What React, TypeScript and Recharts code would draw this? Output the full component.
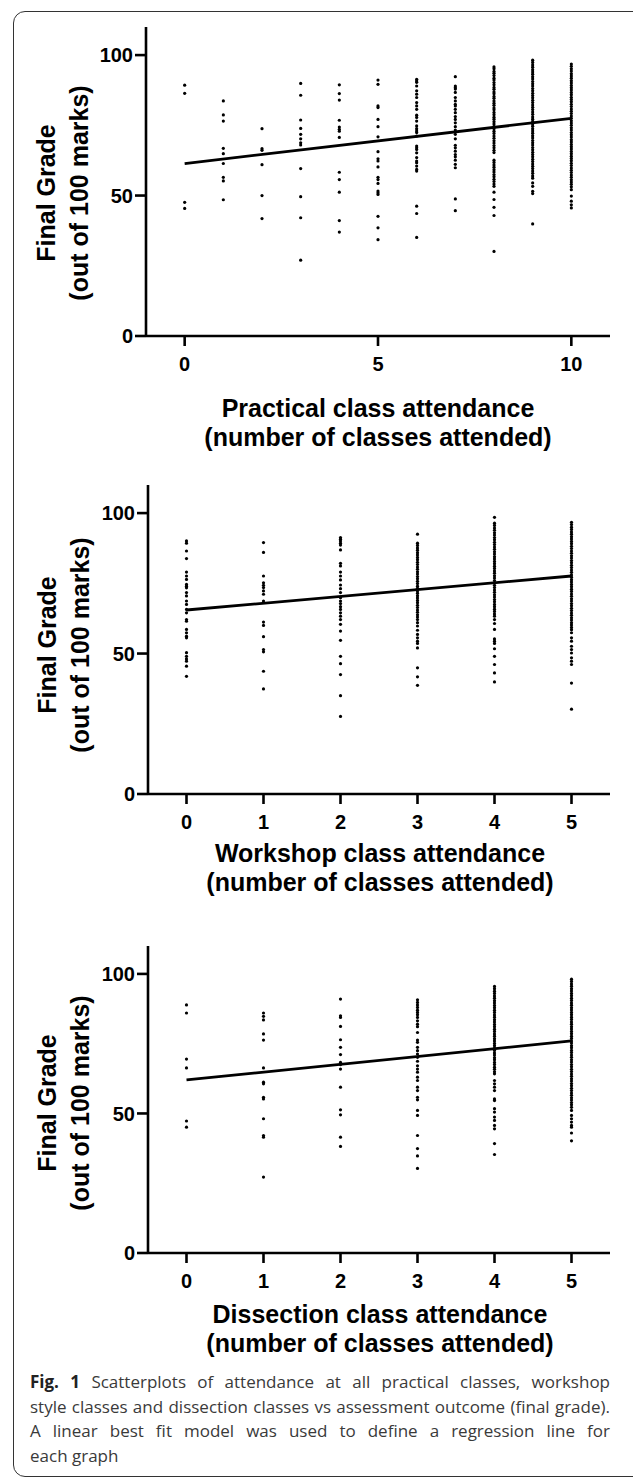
import React from 'react';
import { ScatterChart, Scatter, XAxis, YAxis, Label } from 'recharts';

// ---------- DATA ----------
const practicalX = [0, 1, 2, 3, 4, 5, 6, 7, 8, 9, 10];
const practicalTicks = [0, 5, 10];
const p0 = [89.3, 86.4, 47.6, 45.4];
const p1 = [83.7, 78.7, 76.5, 66.8, 64.9, 61.4, 56.5, 55.2, 48.5];
const p2 = [73.8, 66.7, 66.1, 61.0, 50.0, 41.8];
const p3 = [89.9, 85.7, 76.9, 73.9, 71.8, 70.2, 68.8, 68.0, 59.6, 49.6, 42.1, 27.0];
const p4 = [89.4, 86.3, 84.0, 76.8, 74.4, 73.6, 72.9, 70.7, 58.3, 55.7, 51.2, 41.1, 37.0];
const p5 = [91.1, 89.6, 81.9, 81.3, 77.1, 74.5, 70.9, 65.6, 63.1, 62.3, 60.2, 56.5, 55.7, 54.3, 51.6, 51.0, 50.4, 42.6, 38.5, 34.3];
const p6 = [91.4, 90.8, 90.3, 89.0, 87.3, 86.1, 84.9, 83.1, 81.9, 80.7, 78.6, 77.8, 76.5, 74.8, 73.8, 73.0, 72.4, 71.2, 67.6, 67.0, 66.4, 65.2, 63.5, 62.3, 61.7, 60.5, 59.3, 58.7, 46.2, 43.6, 35.1];
const p7 = [92.3, 89.0, 88.4, 87.9, 86.7, 84.9, 83.7, 82.5, 81.9, 80.7, 79.5, 78.1, 77.1, 75.9, 74.5, 73.3, 71.8, 70.2, 67.9, 67.0, 65.8, 64.6, 63.8, 62.6, 61.1, 59.9, 48.8, 44.6];
const p8 = [95.8, 95.1, 94.2, 93.5, 92.7, 91.8, 91.1, 90.2, 89.4, 88.5, 87.8, 86.9, 86.2, 85.3, 84.6, 83.7, 82.9, 82.1, 81.2, 80.5, 79.6, 78.8, 77.9, 77.2, 76.3, 75.5, 74.6, 73.8, 72.9, 72.1, 71.2, 70.4, 69.5, 68.7, 67.8, 67.0, 66.1, 65.3, 62.6, 61.8, 60.9, 60.1, 59.2, 58.4, 57.5, 56.7, 55.8, 55.0, 54.1, 53.3, 51.2, 48.6, 45.8, 42.9, 30.1];
const p9 = [98.2, 97.4, 96.5, 95.7, 94.8, 94.0, 93.2, 92.3, 91.5, 90.6, 89.8, 89.0, 88.1, 87.3, 86.4, 85.6, 84.8, 83.9, 83.1, 82.2, 81.4, 80.6, 79.7, 78.9, 78.0, 77.2, 76.4, 75.5, 74.7, 73.8, 73.0, 72.2, 71.3, 70.5, 69.6, 68.8, 68.0, 67.1, 66.3, 65.4, 64.6, 63.8, 62.9, 62.1, 61.2, 60.4, 59.6, 58.7, 57.9, 57.0, 56.2, 54.5, 53.3, 51.5, 50.7, 39.9];
const p10 = [96.8, 96.0, 95.1, 94.3, 93.4, 92.6, 91.8, 90.9, 90.1, 89.2, 88.4, 87.6, 86.7, 85.9, 85.0, 84.2, 83.4, 82.5, 81.7, 80.8, 80.0, 79.2, 78.3, 77.5, 76.6, 75.8, 75.0, 74.1, 73.3, 72.4, 71.6, 70.8, 69.9, 69.1, 68.2, 67.4, 66.6, 65.7, 64.9, 64.0, 63.2, 62.4, 61.5, 60.7, 59.8, 59.0, 58.2, 57.3, 56.5, 55.6, 54.8, 54.0, 53.1, 52.1, 49.8, 48.0, 46.7, 45.6];
const practicalFit = [{ x: 0, y: 61.4 }, { x: 10, y: 77.5 }];

const fiveX = [0, 1, 2, 3, 4, 5];
const fiveTicks = [0, 1, 2, 3, 4, 5];
const w0 = [90.1, 89.3, 86.5, 83.8, 79.0, 77.6, 76.4, 74.6, 74.0, 73.4, 71.7, 70.5, 68.7, 67.5, 65.7, 64.5, 62.1, 61.5, 58.6, 57.4, 56.2, 55.6, 50.3, 49.0, 48.1, 47.3, 45.5, 41.9];
const w1 = [89.5, 86.0, 77.6, 75.2, 74.3, 73.5, 72.3, 71.1, 68.7, 61.2, 60.0, 56.0, 51.4, 50.6, 43.7, 37.4];
const w2 = [91.3, 90.7, 90.1, 89.3, 88.6, 86.9, 82.1, 81.2, 79.0, 77.6, 76.2, 74.4, 73.1, 71.7, 69.9, 68.7, 67.8, 66.7, 65.7, 64.5, 63.3, 62.1, 60.4, 58.0, 54.7, 49.0, 46.4, 42.5, 35.0, 27.6];
const w3 = [92.5, 89.3, 88.5, 87.6, 86.8, 85.9, 85.1, 84.2, 83.4, 82.5, 81.7, 80.8, 80.0, 79.1, 78.3, 77.4, 76.6, 75.7, 74.9, 74.0, 73.2, 72.3, 71.5, 70.6, 69.8, 68.9, 68.1, 67.2, 66.4, 65.5, 64.7, 63.8, 63.0, 62.1, 61.0, 59.8, 58.3, 56.8, 55.6, 54.4, 53.6, 52.0, 44.9, 41.7, 38.7];
const w4 = [98.5, 96.4, 95.6, 94.7, 93.9, 93.0, 92.2, 91.3, 90.5, 89.6, 88.8, 87.9, 87.1, 86.2, 85.4, 84.5, 83.7, 82.8, 82.0, 81.1, 80.3, 79.4, 78.6, 77.7, 76.9, 76.0, 75.2, 74.3, 73.5, 72.6, 71.8, 70.9, 70.1, 69.2, 68.4, 67.5, 66.7, 65.8, 65.0, 64.1, 63.3, 62.1, 60.7, 58.6, 55.2, 54.4, 53.6, 51.7, 49.0, 46.1, 43.1, 39.9];
const w5 = [96.7, 95.9, 95.0, 94.2, 93.3, 92.5, 91.6, 90.8, 89.9, 89.1, 88.2, 87.4, 86.5, 85.7, 84.8, 84.0, 83.1, 82.3, 81.4, 80.6, 79.7, 78.9, 78.0, 77.2, 76.3, 75.5, 74.6, 73.8, 72.9, 72.1, 71.2, 70.4, 69.5, 68.7, 67.8, 67.0, 66.1, 65.3, 64.4, 63.6, 62.7, 61.9, 61.0, 60.2, 59.3, 58.5, 57.4, 55.6, 54.4, 52.6, 51.4, 50.2, 48.5, 47.3, 46.1, 39.5, 30.2];
const workshopFit = [{ x: 0, y: 65.5 }, { x: 5, y: 77.6 }];

const d0 = [88.9, 86.0, 69.5, 66.3, 47.3, 45.1];
const d1 = [86.0, 84.8, 83.5, 78.5, 76.3, 66.3, 61.2, 60.6, 55.8, 55.2, 48.1, 42.1, 41.5, 27.2];
const d2 = [91.0, 85.0, 84.4, 81.2, 76.4, 73.7, 71.1, 68.3, 67.5, 65.9, 59.4, 51.3, 49.5, 41.5, 38.2];
const d3 = [90.7, 89.8, 88.9, 88.0, 87.0, 86.2, 85.4, 84.4, 83.2, 82.0, 81.1, 79.0, 76.3, 75.5, 73.7, 72.5, 71.3, 70.1, 68.7, 67.1, 65.9, 64.8, 63.0, 61.8, 59.4, 58.2, 55.8, 54.9, 51.1, 49.3, 42.1, 37.4, 34.8, 30.3];
const d4 = [95.5, 94.7, 93.8, 93.0, 92.1, 91.3, 90.4, 89.6, 88.7, 87.9, 87.0, 86.2, 85.3, 84.5, 83.6, 82.8, 81.9, 81.1, 80.2, 79.4, 78.5, 77.7, 76.8, 76.0, 75.1, 74.3, 73.4, 72.6, 71.7, 70.9, 70.0, 69.2, 68.3, 67.5, 66.6, 65.8, 64.9, 64.2, 61.8, 60.6, 59.4, 58.2, 55.2, 54.6, 51.7, 50.5, 48.7, 47.5, 45.7, 44.5, 39.2, 35.3];
const d5 = [98.1, 97.3, 96.4, 95.6, 94.7, 93.9, 93.0, 92.2, 91.3, 90.5, 89.6, 88.8, 87.9, 87.1, 86.2, 85.4, 84.5, 83.7, 82.8, 82.0, 81.1, 80.3, 79.4, 78.6, 77.7, 76.9, 76.0, 75.2, 74.3, 73.5, 72.6, 71.8, 70.9, 70.1, 69.2, 68.4, 67.5, 66.7, 65.8, 65.0, 64.1, 63.3, 62.4, 61.6, 60.7, 59.9, 59.0, 58.2, 57.3, 56.5, 55.6, 54.8, 53.9, 53.1, 52.2, 51.1, 49.3, 48.1, 46.9, 45.7, 45.1, 43.0, 40.2];
const dissectionFit = [{ x: 0, y: 62.0 }, { x: 5, y: 76.0 }];

const yTicks = [0, 50, 100];
const yLabelLines = ['Final Grade', '(out of 100 marks)'];
const captionLines = [
  'Scatterplots of attendance at all practical classes, workshop',
  'style classes and dissection classes vs assessment outcome (final grade).',
  'A linear best fit model was used to define a regression line for',
  'each graph',
];

// ---------- HELPERS ----------
const FONT = '"Liberation Sans", Arial, Helvetica, sans-serif';

const buildPoints = (xs: number[], cols: number[][]) =>
  cols.flatMap((vals, i) => vals.map((v) => ({ x: xs[i], y: v })));

const Dot = (props: any) => {
  if (props.cx == null || props.cy == null) return <g />;
  return <circle cx={props.cx} cy={props.cy} r={1.6} fill="#000" />;
};
const NoDot = () => <g />;

type PanelCfg = {
  top: number;
  height: number;
  marginTop: number;
  xAxisHeight: number;
  yAxisWidth: number;
  xDomain: [number, number];
  xTicks: number[];
  points: { x: number; y: number }[];
  fit: { x: number; y: number }[];
  xTitle: string[];
  xTitleCenter: number;
  xTitleBase: number[];
  yTitleCenter: number;
  yTitleBase: number[];
};

function Panel({ cfg }: { cfg: PanelCfg }) {
  const tickStyle = { fill: '#000', fontSize: 20, fontWeight: 'bold', fontFamily: FONT } as any;
  const axisLine = { stroke: '#000', strokeWidth: 2.6 };
  const titleStyle = { fontSize: 25, fontWeight: 'bold', fontFamily: FONT, fill: '#000' } as any;
  return (
    <div style={{ position: 'absolute', left: 0, top: cfg.top }}>
      <ScatterChart
        width={633}
        height={cfg.height}
        margin={{ top: cfg.marginTop, right: 23, bottom: 0, left: 0 }}
      >
        <XAxis
          type="number"
          dataKey="x"
          domain={cfg.xDomain}
          ticks={cfg.xTicks}
          interval={0}
          allowDataOverflow
          height={cfg.xAxisHeight}
          axisLine={axisLine}
          tickLine={axisLine}
          tickSize={10}
          tickMargin={11}
          tick={tickStyle}
        >
          <Label
            content={() => (
              <text textAnchor="middle" style={titleStyle}>
                {cfg.xTitle.map((t, i) => (
                  <tspan key={i} x={cfg.xTitleCenter} y={cfg.xTitleBase[i]}>
                    {t}
                  </tspan>
                ))}
              </text>
            )}
          />
        </XAxis>
        <YAxis
          type="number"
          dataKey="y"
          domain={[0, 110]}
          ticks={yTicks}
          interval={0}
          allowDataOverflow
          width={cfg.yAxisWidth}
          axisLine={axisLine}
          tickLine={axisLine}
          tickSize={11}
          tickMargin={2}
          tick={tickStyle}
        >
          <Label
            content={() => (
              <g>
                {yLabelLines.map((t, i) => (
                  <text
                    key={i}
                    x={cfg.yTitleBase[i]}
                    y={cfg.yTitleCenter}
                    textAnchor="middle"
                    transform={`rotate(-90 ${cfg.yTitleBase[i]} ${cfg.yTitleCenter})`}
                    style={titleStyle}
                  >
                    {t}
                  </text>
                ))}
              </g>
            )}
          />
        </YAxis>
        <Scatter data={cfg.points} shape={Dot} isAnimationActive={false} />
        <Scatter
          data={cfg.fit}
          shape={NoDot}
          line={{ stroke: '#000', strokeWidth: 2.8 }}
          isAnimationActive={false}
        />
      </ScatterChart>
    </div>
  );
}

const panels: PanelCfg[] = [
  {
    top: 0,
    height: 470,
    marginTop: 27,
    xAxisHeight: 134,
    yAxisWidth: 146,
    xDomain: [-1, 11],
    xTicks: practicalTicks,
    points: buildPoints(practicalX, [p0, p1, p2, p3, p4, p5, p6, p7, p8, p9, p10]),
    fit: practicalFit,
    xTitle: ['Practical class attendance', '(number of classes attended)'],
    xTitleCenter: 378,
    xTitleBase: [417, 446],
    yTitleCenter: 193,
    yTitleBase: [55, 88],
  },
  {
    top: 440,
    height: 470,
    marginTop: 45,
    xAxisHeight: 116,
    yAxisWidth: 148,
    xDomain: [-0.5, 5.5],
    xTicks: fiveTicks,
    points: buildPoints(fiveX, [w0, w1, w2, w3, w4, w5]),
    fit: workshopFit,
    xTitle: ['Workshop class attendance', '(number of classes attended)'],
    xTitleCenter: 380,
    xTitleBase: [422, 451],
    yTitleCenter: 205,
    yTitleBase: [56, 89],
  },
  {
    top: 900,
    height: 470,
    marginTop: 46,
    xAxisHeight: 117,
    yAxisWidth: 148,
    xDomain: [-0.5, 5.5],
    xTicks: fiveTicks,
    points: buildPoints(fiveX, [d0, d1, d2, d3, d4, d5]),
    fit: dissectionFit,
    xTitle: ['Dissection class attendance', '(number of classes attended)'],
    xTitleCenter: 380,
    xTitleBase: [423, 452],
    yTitleCenter: 203,
    yTitleBase: [56, 89],
  },
];

export default function App() {
  return (
    <div
      style={{
        position: 'absolute',
        left: 0,
        top: 0,
        width: 633,
        height: 1480,
        overflow: 'hidden',
        background: '#fff',
      }}
    >
      <div
        style={{
          position: 'absolute',
          left: 13,
          top: 11,
          width: 640,
          height: 1466,
          border: '1.5px solid #333',
          borderRadius: 12,
          boxSizing: 'border-box',
        }}
      />
      {panels.map((cfg, i) => (
        <Panel key={i} cfg={cfg} />
      ))}
      <div
        style={{
          position: 'absolute',
          left: 30,
          top: 1370,
          width: 580,
          fontFamily: '"Open Sans", "Noto Sans", sans-serif',
          fontSize: 17,
          lineHeight: '24.7px',
          color: '#3a3a3a',
        }}
      >
        {captionLines.map((line, i) => (
          <div
            key={i}
            style={{
              whiteSpace: 'nowrap',
              textAlign: 'justify',
              textAlignLast: i < captionLines.length - 1 ? 'justify' : 'left',
            }}
          >
            {i === 0 ? (
              <>
                <b style={{ color: '#222' }}>Fig. 1</b> {line}
              </>
            ) : (
              line
            )}
          </div>
        ))}
      </div>
    </div>
  );
}
